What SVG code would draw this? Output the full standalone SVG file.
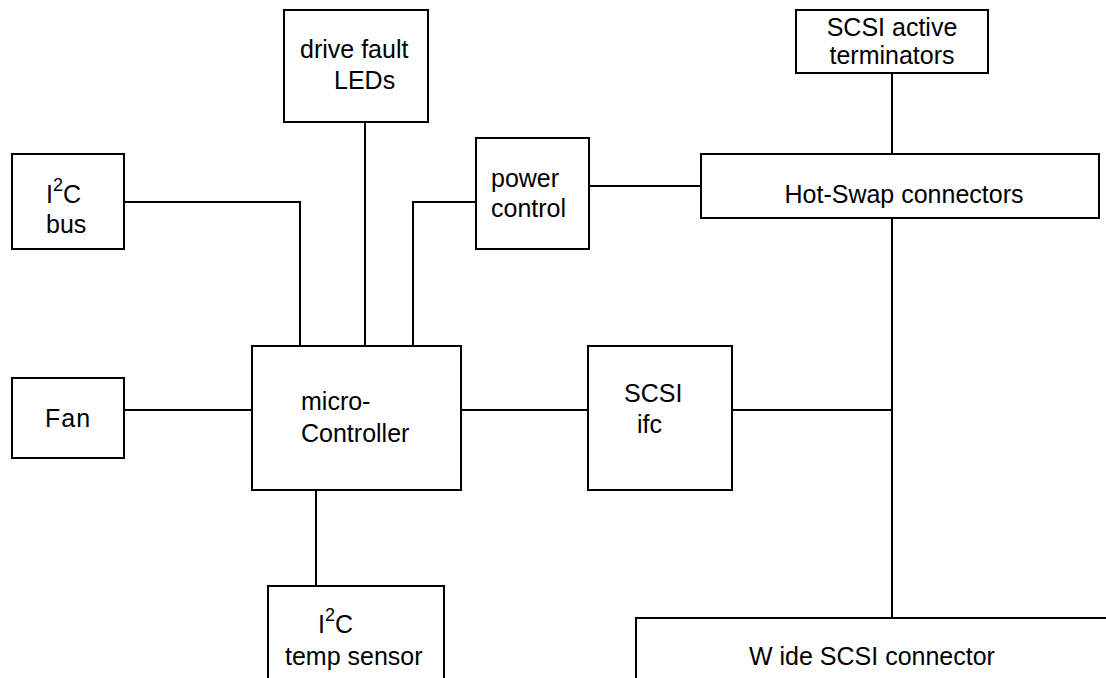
<svg xmlns="http://www.w3.org/2000/svg" width="1106" height="678" viewBox="0 0 1106 678">
<style>
.box{fill:#fff;stroke:#000;stroke-width:2}
.ln{fill:none;stroke:#000;stroke-width:2}
text{font-family:"Liberation Sans",Arial,sans-serif;font-size:25px;fill:#000}
.sup{font-size:18px}
</style>
<rect width="1106" height="678" fill="#fff"/>
<g id="connectors">
<polyline class="ln" points="124,202 300,202 300,346"/>
<line class="ln" x1="365" y1="122" x2="365" y2="346"/>
<polyline class="ln" points="476,202 413,202 413,346"/>
<line class="ln" x1="589" y1="186" x2="701" y2="186"/>
<line class="ln" x1="892" y1="73" x2="892" y2="154"/>
<line class="ln" x1="892" y1="218" x2="892" y2="618"/>
<line class="ln" x1="124" y1="410" x2="252" y2="410"/>
<line class="ln" x1="461" y1="410" x2="588" y2="410"/>
<line class="ln" x1="732" y1="410" x2="892" y2="410"/>
<line class="ln" x1="316" y1="490" x2="316" y2="586"/>
</g>
<g id="i2c-bus">
<rect class="box" x="12" y="154" width="112" height="95"/>
<text x="46" y="203">I<tspan class="sup" dy="-12">2</tspan><tspan dy="12">C</tspan></text>
<text x="46" y="233">bus</text>
</g>
<g id="drive-fault-leds">
<rect class="box" x="284" y="10" width="144" height="112"/>
<text x="300" y="58">drive fault</text>
<text x="334" y="89">LEDs</text>
</g>
<g id="power-control">
<rect class="box" x="476" y="138" width="113" height="111"/>
<text x="491" y="187">power</text>
<text x="491" y="217">control</text>
</g>
<g id="scsi-active-terminators">
<rect class="box" x="796" y="10" width="192" height="63"/>
<text x="892" y="36" text-anchor="middle" font-size="24">SCSI active</text>
<text x="892" y="64" text-anchor="middle" font-size="24">terminators</text>
</g>
<g id="hot-swap-connectors">
<rect class="box" x="701" y="154" width="398" height="64"/>
<text x="904" y="203" text-anchor="middle" font-size="26">Hot-Swap connectors</text>
</g>
<g id="fan">
<rect class="box" x="12" y="378" width="112" height="80"/>
<text x="45" y="427" letter-spacing="1">Fan</text>
</g>
<g id="micro-controller">
<rect class="box" x="252" y="346" width="209" height="144"/>
<text x="301" y="410">micro-</text>
<text x="301" y="442">Controller</text>
</g>
<g id="scsi-ifc">
<rect class="box" x="588" y="346" width="144" height="144"/>
<text x="624" y="402">SCSI</text>
<text x="637" y="433">ifc</text>
</g>
<g id="i2c-temp-sensor">
<rect class="box" x="268" y="586" width="176" height="110"/>
<text x="318" y="633">I<tspan class="sup" dy="-12">2</tspan><tspan dy="12">C</tspan></text>
<text x="285" y="665">temp sensor</text>
</g>
<g id="wide-scsi-connector">
<rect class="box" x="636" y="618" width="490" height="80"/>
<text x="749" y="665" font-size="26">W ide SCSI connector</text>
</g>
</svg>
